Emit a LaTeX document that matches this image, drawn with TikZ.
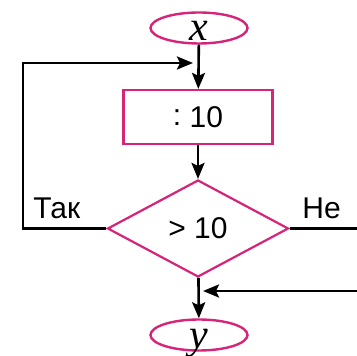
\documentclass[tikz,border=0pt]{standalone}
\usepackage{fontspec}
\setmainfont{Liberation Sans}
\newfontfamily\varfont{Liberation Serif}
\usetikzlibrary{shapes.geometric,arrows.meta}
\definecolor{rim}{RGB}{214,36,120}
\begin{document}
\begin{tikzpicture}[x=0.5pt, y=-0.5pt,
      >={Stealth[length=8pt, width=6.5pt, inset=1.5pt]},
      term/.style={draw=rim, line width=1.2pt, ellipse, minimum width=48.5pt, minimum height=15.5pt, inner sep=0pt},
      proc/.style={draw=rim, line width=1.1pt, rectangle, minimum width=74.5pt, minimum height=27pt, inner sep=0pt},
      cond/.style={draw=rim, line width=1.1pt, diamond, aspect=1.87, minimum width=90.5pt, minimum height=48.5pt, inner sep=0pt},
      edge/.style={->, line width=1.3pt},
      line/.style={line width=1.3pt},
      lbl/.style={inner sep=0pt, font=\fontsize{15}{17}\selectfont},
      var/.style={inner sep=0pt, anchor=base, font=\fontsize{21}{23}\varfont\itshape}]

    \useasboundingbox (0,0) rectangle (357,356);

    \node[term] (x) at (199,28)  {};
    \node[var] (xname) at ([yshift=-6.5pt]x.center) {x};
    \node[proc, lbl] (div) at (198,117) {\raisebox{1pt}{:} 10};
    \node[cond, lbl] (test) at (198,228.5) {> 10};
    \node[term] (y) at (199,335) {};
    \node[var] (yname) at ([yshift=-6.5pt]y.center) {y};

    \node[lbl, anchor=base west] (yes) at (33,219)  {Так};
    \node[lbl, anchor=base west] (no)  at (302,219) {Не};

    \coordinate (lcorner) at (23,63);
    \coordinate (loopin)  at (193,63);
    \coordinate (rend)    at (357,228.5);
    \coordinate (rstart)  at (357,291);
    \coordinate (rjoin)   at (203,291);

    \draw[edge] (x) -- (div);
    \draw[edge] (div) -- (test);
    \draw[edge] (test) -- (y);
    \draw[edge] (test.west) -| (lcorner) -- (loopin);
    \draw[line] (test.east) -- (rend);
    \draw[edge] (rstart) -- (rjoin);
  \end{tikzpicture}
\end{document}
